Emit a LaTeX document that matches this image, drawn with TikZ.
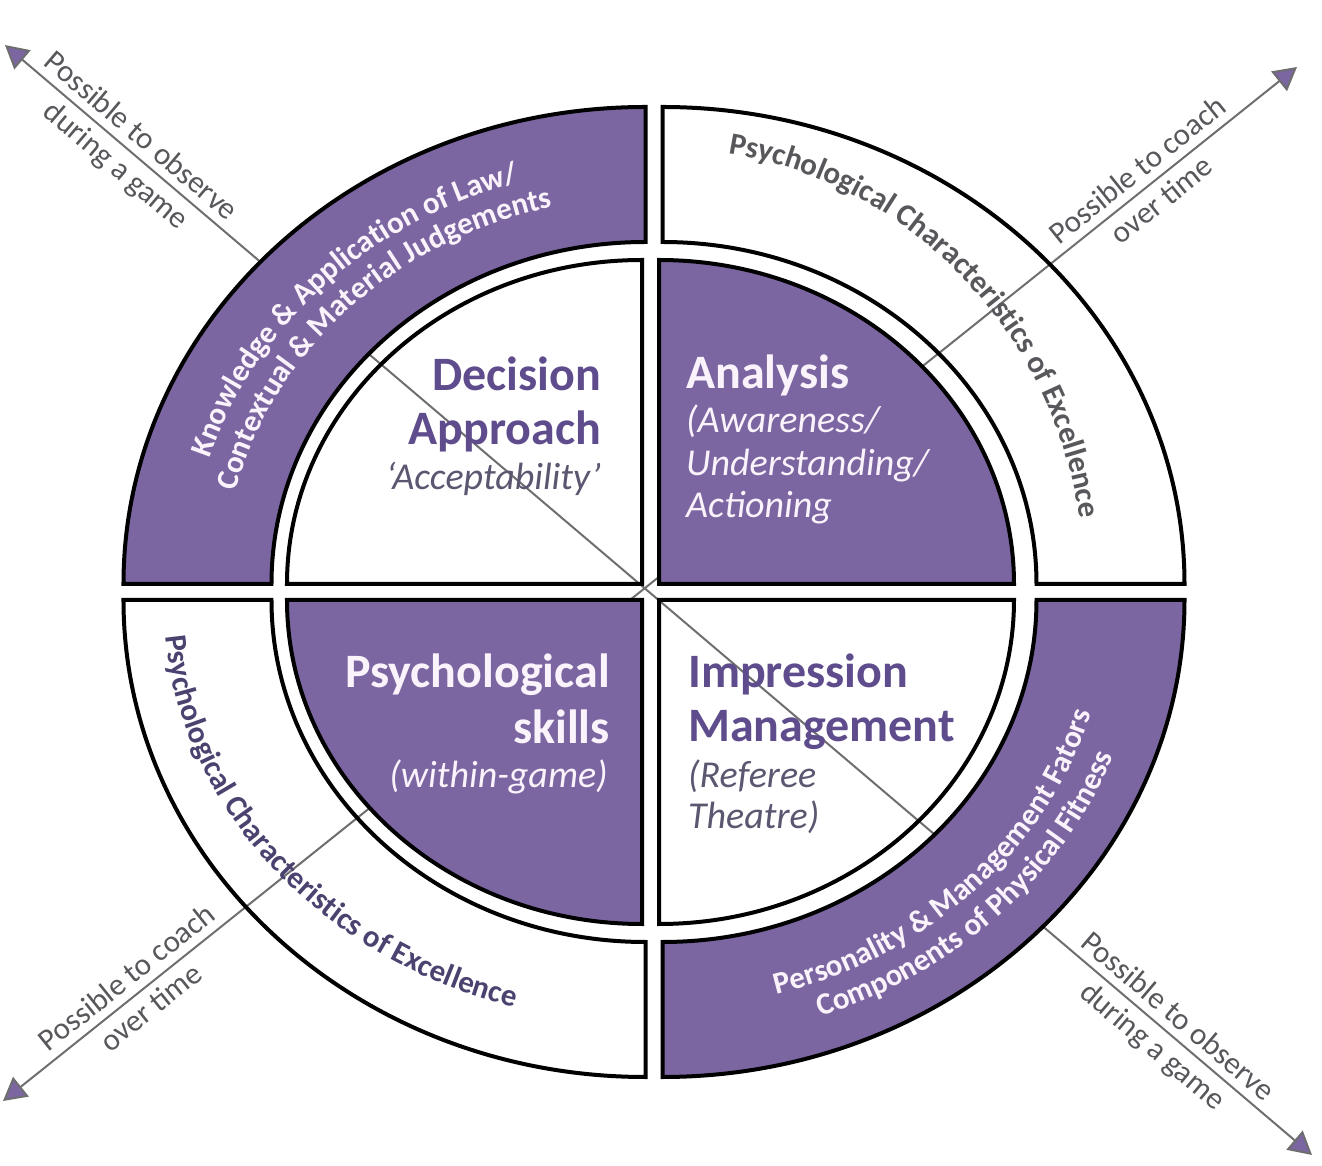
\documentclass[tikz,border=0pt]{standalone}
\usepackage{fontspec}
\setmainfont{Carlito}
\usetikzlibrary{arrows.meta}
\usetikzlibrary{decorations.text}

\definecolor{ringpurple}{RGB}{123,102,161}
\definecolor{headpurple}{RGB}{94,76,140}
\definecolor{notegray}{RGB}{92,86,112}
\definecolor{armgray}{RGB}{88,88,92}
\definecolor{axisgray}{RGB}{110,110,112}
\definecolor{softwhite}{RGB}{251,243,251}
\definecolor{pceplum}{RGB}{76,66,112}

\newcommand\ringfont{\fontsize{31}{36}\selectfont\bfseries}
\newcommand\armfont{\fontsize{31}{38}\selectfont}
\newcommand\headfont{\fontsize{48}{54}\selectfont\bfseries}
\newcommand\notefont{\fontsize{38}{43}\selectfont\itshape}

\begin{document}
\begin{tikzpicture}[
      x=1pt, y=1pt,
      quarter/.style={draw=black, line width=4pt},
      filled/.style={quarter, fill=ringpurple},
      axisline/.style={draw=axisgray, line width=2pt,
        arrows={Triangle[length=23pt,width=25pt,fill=ringpurple]-Triangle[length=23pt,width=25pt,fill=ringpurple]}},
      armtext/.style={text=armgray, font=\armfont, sloped, inner xsep=0pt},
      headtext/.style={font=\headfont, inner sep=0pt},
      notetext/.style={font=\notefont, inner sep=0pt},
      ]

      \useasboundingbox (-650.5,-574) rectangle (671.5,592);

      % the two axes, drawn first so the purple parts cover them
      \coordinate (obsNW) at (-645.5, 547);
      \coordinate (obsSE) at (661.5, -563);
      \coordinate (coachSW) at (-647.5, -509);
      \coordinate (coachNE) at (646.5, 525);

      \draw[axisline] (obsNW) -- (obsSE)
        node[armtext, pos=0.095, anchor=south, inner ysep=8pt] (obsNWa) {Possible to observe}
        node[armtext, pos=0.095, anchor=north, inner ysep=7pt] (obsNWb) {during a game}
        node[armtext, pos=0.888, anchor=south, inner ysep=8pt] (obsSEa) {Possible to observe}
        node[armtext, pos=0.888, anchor=north, inner ysep=7pt] (obsSEb) {during a game};

      \draw[axisline] (coachSW) -- (coachNE)
        node[armtext, pos=0.105, anchor=south, inner ysep=8pt] (coachSWa) {Possible to coach}
        node[armtext, pos=0.105, anchor=north, inner ysep=7pt] (coachSWb) {over time}
        node[armtext, pos=0.886, anchor=south, inner ysep=8pt] (coachNEa) {Possible to coach}
        node[armtext, pos=0.886, anchor=north, inner ysep=7pt] (coachNEb) {over time};

      % inner quarters
      \draw[quarter] (-8.5,8) -- (-363.5,8) arc[start angle=180, end angle=90, x radius=355, y radius=324] -- cycle;
      \draw[filled] (8.5,8) -- (8.5,332) arc[start angle=90, end angle=0, x radius=355, y radius=324] -- cycle;
      \draw[filled] (-8.5,-8) -- (-8.5,-332) arc[start angle=270, end angle=180, x radius=355, y radius=324] -- cycle;
      \draw[quarter] (8.5,-8) -- (363.5,-8) arc[start angle=0, end angle=-90, x radius=355, y radius=324] -- cycle;

      % outer ring
      \draw[filled] (-527,8) arc[start angle=180, end angle=90, x radius=522, y radius=477]
        -- (-5,350) arc[start angle=90, end angle=180, x radius=374, y radius=342] -- cycle;
      \draw[quarter] (12,485) arc[start angle=90, end angle=0, x radius=522, y radius=477]
        -- (386,8) arc[start angle=0, end angle=90, x radius=374, y radius=342] -- cycle;
      \draw[quarter] (-5,-485) arc[start angle=270, end angle=180, x radius=522, y radius=477]
        -- (-379,-8) arc[start angle=180, end angle=270, x radius=374, y radius=342] -- cycle;
      \draw[filled] (534,-8) arc[start angle=0, end angle=-90, x radius=522, y radius=477]
        -- (12,-350) arc[start angle=-90, end angle=0, x radius=374, y radius=342] -- cycle;

      % quarter labels
      \node[headtext, text=headpurple, anchor=base east] (decA) at (-49.5,201) {Decision};
      \node[headtext, text=headpurple, anchor=base east] (decB) at (-49.5,147) {Approach};
      \node[notetext, text=notegray, anchor=base east] (decC) at (-49.5,102) {‘Acceptability’};

      \node[headtext, text=softwhite, anchor=base west] (anaA) at (35.5,203) {Analysis};
      \node[notetext, text=softwhite, anchor=base west] (anaB) at (35.5,159) {(Awareness/};
      \node[notetext, text=softwhite, anchor=base west] (anaC) at (35.5,116) {Understanding/};
      \node[notetext, text=softwhite, anchor=base west] (anaD) at (35.5,74) {Actioning};

      \node[headtext, text=softwhite, anchor=base east] (psyA) at (-40.5,-96) {Psychological};
      \node[headtext, text=softwhite, anchor=base east] (psyB) at (-40.5,-152) {skills};
      \node[notetext, text=softwhite, anchor=base east] (psyC) at (-42.5,-196) {(within-game)};

      \node[headtext, text=headpurple, anchor=base west] (impA) at (37.5,-96) {Impression};
      \node[headtext, text=headpurple, anchor=base west] (impB) at (37.5,-150) {Management};
      \node[notetext, text=notegray, anchor=base west] (impC) at (37.5,-196) {(Referee};
      \node[notetext, text=notegray, anchor=base west] (impD) at (37.5,-237) {Theatre)};

      % ring labels along the arcs
      \path[decorate, decoration={text along path, text align=center,
          text={|\ringfont\color{softwhite}|Knowledge {\&} Application of Law/}}]
        (-462,8) arc[start angle=180, end angle=90, x radius=457, y radius=418];
      \path[decorate, decoration={text along path, text align=center,
          text={|\ringfont\color{softwhite}|Contextual {\&} Material Judgements}}]
        (-427,8) arc[start angle=180, end angle=90, x radius=422, y radius=386];

      \path[decorate, decoration={text along path, text align=center,
          text={|\ringfont\color{armgray}|Psychological Characteristics of Excellence}}]
        (12,444) arc[start angle=90, end angle=0, x radius=422, y radius=436];

      \path[decorate, decoration={text along path, text align=center,
          text={|\ringfont\color{pceplum}|Psychological Characteristics of Excellence}}]
        ([shift={(-5,-8)}]176:482 and 423) arc[start angle=176, end angle=262, x radius=482, y radius=423];

      \path[decorate, decoration={text along path, text align=center,
          text={|\ringfont\color{softwhite}|Personality {\&} Management Fators}}]
        (12,-416) arc[start angle=270, end angle=360, x radius=446, y radius=408];
      \path[decorate, decoration={text along path, text align=center,
          text={|\ringfont\color{softwhite}|Components of Physical Fitness}}]
        (12,-449) arc[start angle=270, end angle=360, x radius=482, y radius=441];

    \end{tikzpicture}
\end{document}
